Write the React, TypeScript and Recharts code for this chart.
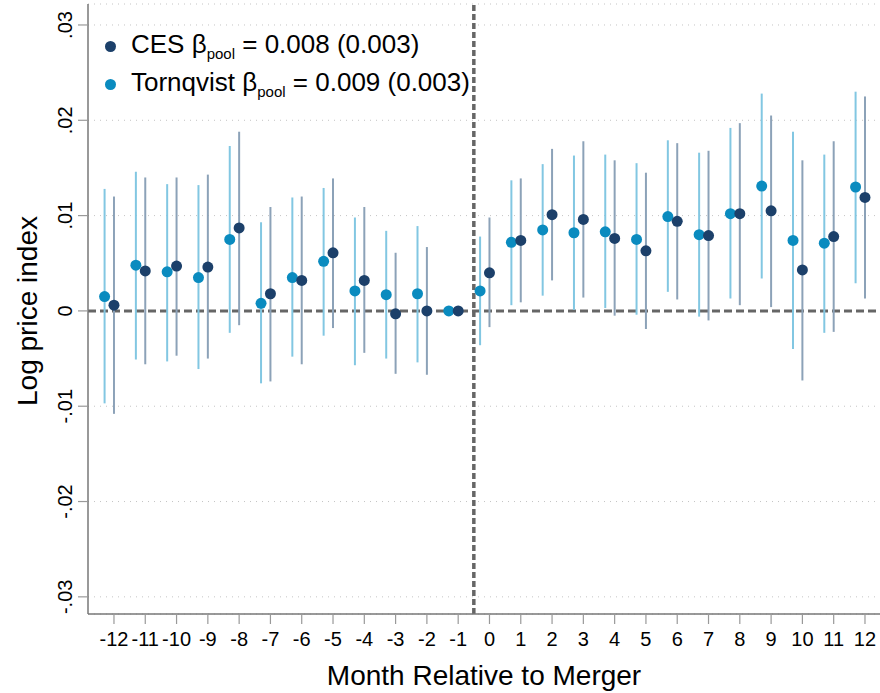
import React from "react";
import {
  CartesianGrid,
  ComposedChart,
  ErrorBar,
  Legend,
  ReferenceLine,
  Scatter,
  XAxis,
  YAxis,
} from "recharts";

const FONT = '"Liberation Sans", Arial, Helvetica, sans-serif';

// months relative to merger
const months = [-12, -11, -10, -9, -8, -7, -6, -5, -4, -3, -2, -1, 0, 1, 2, 3, 4, 5, 6, 7, 8, 9, 10, 11, 12];

// Tornqvist estimates and 95% CI
const tornqvistCoef = [0.0015, 0.0048, 0.0041, 0.0035, 0.0075, 0.0008, 0.0035, 0.0052, 0.0021, 0.0017, 0.0018, 0, 0.0021, 0.0072, 0.0085, 0.0082, 0.0083, 0.0075, 0.0099, 0.008, 0.0102, 0.0131, 0.0074, 0.0071, 0.013];
const tornqvistLo = [-0.0097, -0.0051, -0.0053, -0.0061, -0.0023, -0.0076, -0.0048, -0.0026, -0.0057, -0.005, -0.0054, 0, -0.0036, 0.0006, 0.0016, 0.0001, 0.0003, -0.0004, 0.002, -0.0006, 0.0013, 0.0034, -0.004, -0.0023, 0.0029];
const tornqvistHi = [0.0128, 0.0146, 0.0133, 0.0132, 0.0173, 0.0093, 0.0119, 0.0129, 0.0098, 0.0084, 0.0089, 0, 0.0078, 0.0137, 0.0154, 0.0163, 0.0164, 0.0155, 0.0179, 0.0166, 0.0192, 0.0228, 0.0188, 0.0164, 0.023];

// CES estimates and 95% CI
const cesCoef = [0.0006, 0.0042, 0.0047, 0.0046, 0.0087, 0.0018, 0.0032, 0.0061, 0.0032, -0.0003, 0, 0, 0.004, 0.0074, 0.0101, 0.0096, 0.0076, 0.0063, 0.0094, 0.0079, 0.0102, 0.0105, 0.0043, 0.0078, 0.0119];
const cesLo = [-0.0108, -0.0056, -0.0047, -0.005, -0.0015, -0.0074, -0.0056, -0.0018, -0.0044, -0.0066, -0.0067, 0, -0.0017, 0.0009, 0.0032, 0.0014, -0.0005, -0.0019, 0.0012, -0.001, 0.0006, 0.0004, -0.0073, -0.0022, 0.0013];
const cesHi = [0.012, 0.014, 0.014, 0.0143, 0.0188, 0.0109, 0.012, 0.0139, 0.0109, 0.0061, 0.0067, 0, 0.0098, 0.0139, 0.017, 0.0178, 0.0158, 0.0145, 0.0176, 0.0168, 0.0197, 0.0205, 0.0158, 0.0178, 0.0225];

const yTicks = [-0.03, -0.02, -0.01, 0, 0.01, 0.02, 0.03];

// legend
const legendNames = ["CES", "Tornqvist"];
const legendBeta = ["0.008 (0.003)", "0.009 (0.003)"];

const TORN_DOT = "#0a8bbf";
const TORN_CI = "#82c7e2";
const CES_DOT = "#1c406a";
const CES_CI = "#8ca2b8";
const legendColors = [CES_DOT, TORN_DOT];

const DODGE = 0.3;

const tornqvistData = months.map((m, i) => ({
  x: m - DODGE,
  y: tornqvistCoef[i],
  err: [tornqvistCoef[i] - tornqvistLo[i], tornqvistHi[i] - tornqvistCoef[i]],
}));

const cesData = months.map((m, i) => ({
  x: m,
  y: cesCoef[i],
  err: [cesCoef[i] - cesLo[i], cesHi[i] - cesCoef[i]],
}));

const fmtY = (v: number) => {
  if (v === 0) return "0";
  const s = Math.abs(v).toFixed(2).replace(/^0/, "");
  return v < 0 ? "-" + s : s;
};

const dotShape = (color: string) => (props: any) =>
  <circle cx={props.cx} cy={props.cy} r={5.5} fill={color} />;

function YTick(props: any) {
  const { x, y, payload } = props;
  const cx = x - 7;
  return (
    <text
      x={cx}
      y={y}
      transform={`rotate(-90 ${cx} ${y})`}
      textAnchor="middle"
      dominantBaseline="central"
      fontSize={20}
      fill="#000"
    >
      {fmtY(payload.value)}
    </text>
  );
}

function YTitle(props: any) {
  const vb = props.viewBox;
  const cx = vb.x + 27;
  const cy = vb.y + vb.height / 2 + 2;
  return (
    <text
      x={cx}
      y={cy}
      transform={`rotate(-90 ${cx} ${cy})`}
      textAnchor="middle"
      dominantBaseline="central"
      fontSize={28}
      fill="#000"
    >
      Log price index
    </text>
  );
}

function LegendBox() {
  return (
    <div style={{ fontFamily: FONT, fontSize: 26, lineHeight: "34px", color: "#000" }}>
      {legendNames.map((name, i) => (
        <div key={name} style={{ display: "flex", alignItems: "center", whiteSpace: "nowrap" }}>
          <span
            style={{
              width: 11,
              height: 11,
              borderRadius: "50%",
              background: legendColors[i],
              marginRight: 15,
              flex: "none",
            }}
          />
          <span>
            {name} β<span style={{ fontSize: 15, position: "relative", top: 6 }}>pool</span> = {legendBeta[i]}
          </span>
        </div>
      ))}
    </div>
  );
}

export default function App() {
  return (
    <div style={{ position: "absolute", left: 0, top: 0, fontFamily: FONT, background: "#fff" }}>
      <ComposedChart width={880} height={693} margin={{ top: 4, right: 0, bottom: 0, left: 0 }}>
        <CartesianGrid horizontal vertical={false} stroke="#c4c4c4" strokeDasharray="1 5" />
        <XAxis
          type="number"
          dataKey="x"
          domain={[-12.83, 12.48]}
          ticks={months}
          interval={0}
          allowDataOverflow
          height={79}
          tickSize={10}
          tickMargin={8}
          tick={{ fontSize: 20, fill: "#000" }}
          axisLine={{ stroke: "#777", strokeWidth: 1.5 }}
          tickLine={{ stroke: "#999", strokeWidth: 1.2 }}
          label={{ value: "Month Relative to Merger", position: "insideBottom", offset: 8, fontSize: 28, fill: "#000" }}
        />
        <YAxis
          type="number"
          dataKey="y"
          domain={[-0.0318, 0.0322]}
          ticks={yTicks}
          interval={0}
          allowDataOverflow
          width={88}
          tickSize={10}
          tickMargin={6}
          tick={<YTick />}
          axisLine={{ stroke: "#777", strokeWidth: 1.5 }}
          tickLine={{ stroke: "#999", strokeWidth: 1.2 }}
          label={{ content: YTitle }}
        />
        <ReferenceLine y={0} stroke="#666" strokeWidth={3} strokeDasharray="8 4" />
        <ReferenceLine x={-0.5} stroke="#666" strokeWidth={3.5} strokeDasharray="6 3" />
        <Legend
          layout="vertical"
          align="center"
          verticalAlign="middle"
          content={<LegendBox />}
          wrapperStyle={{ left: 105, top: 27, width: "auto", height: "auto" }}
        />
        <Scatter
          name="Tornqvist"
          data={tornqvistData}
          shape={dotShape(TORN_DOT)}
          isAnimationActive={false}
        >
          <ErrorBar dataKey="err" direction="y" width={0} stroke={TORN_CI} strokeWidth={2} />
        </Scatter>
        <Scatter
          name="CES"
          data={cesData}
          shape={dotShape(CES_DOT)}
          isAnimationActive={false}
        >
          <ErrorBar dataKey="err" direction="y" width={0} stroke={CES_CI} strokeWidth={2} />
        </Scatter>
      </ComposedChart>
    </div>
  );
}
